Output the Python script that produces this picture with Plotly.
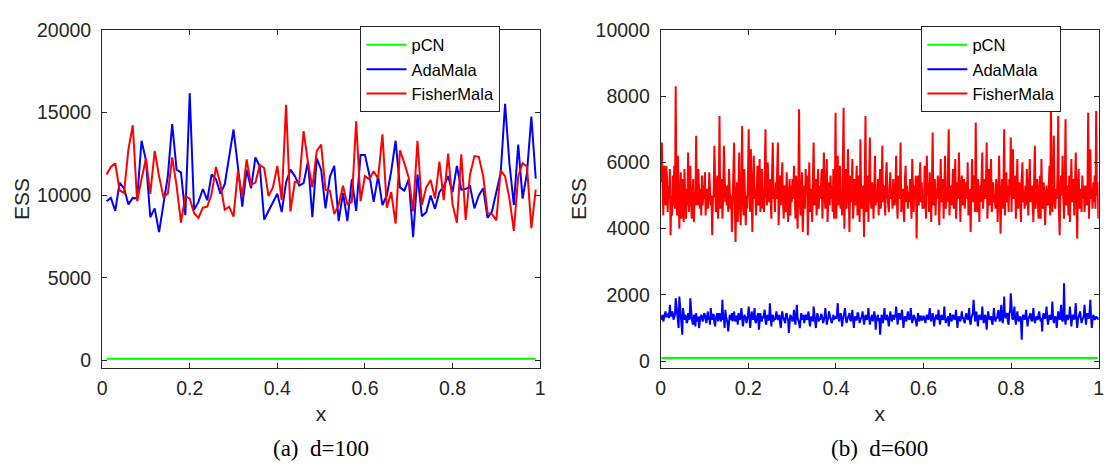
import numpy as np
import plotly.graph_objects as go

# ---------------- d = 100 ----------------
x_a = [round(0.01 * k, 2) for k in range(1, 100)]

ada_a = [9630, 9830, 9050, 10760, 10410, 9440, 9830, 9790, 13290, 12120,
         8660, 9200, 7760, 9590, 11150, 14300, 11540, 11380, 8780, 16170,
         9110, 9590, 10370, 9690, 11250, 10960, 10080, 10660, 12320, 13970,
         11730, 9300, 11540, 10410, 12280, 11730, 8520, 9010, 9550, 10080,
         8970, 10760, 11540, 11150, 10570, 10720, 12030, 8660, 12220, 11540,
         9200, 11110, 11770, 8430, 10140, 8430, 10960, 9050, 12420, 12420,
         11250, 9590, 11150, 9400, 9980, 11440, 13290, 10470, 10270, 10960,
         7450, 11250, 8720, 8970, 9980, 9170, 10180, 10530, 11150, 10180,
         11770, 10330, 10370, 10530, 9200, 9980, 10410, 8620, 9010, 10180,
         11350, 15530, 11890, 9400, 13060, 9790, 11350, 14750, 11000]

fisher_a = [11250, 11700, 11930, 10280, 10140, 12750, 14230, 9630, 10960, 12220,
            10080, 12670, 11150, 9890, 10080, 12280, 10570, 8330, 9940, 9790,
            8910, 8620, 9240, 9300, 10080, 11700, 10660, 9110, 9300, 8700,
            11440, 9890, 12160, 10610, 10760, 11830, 11640, 9940, 10470, 11770,
            9690, 15470, 9010, 10800, 10760, 13870, 11970, 10470, 12670, 13060,
            10330, 10280, 8850, 9400, 10570, 9440, 9590, 14460, 9630, 11150,
            10960, 11440, 11000, 13680, 9240, 10180, 8270, 12710, 11930, 11050,
            9010, 13290, 9400, 10470, 10920, 9790, 12030, 9690, 12510, 9440,
            8330, 12470, 8500, 11250, 12360, 12320, 11150, 8910, 8850, 8470,
            11500, 11150, 9790, 7840, 11150, 11930, 11730, 8000, 10330]

pcn_a = [101, 99, 100, 102, 98, 100, 101, 99, 100, 103,
         98, 100, 101, 99, 102, 100, 98, 101, 100, 99,
         102, 100, 99, 101, 98, 100, 102, 99, 101, 100,
         98, 101, 100, 99, 102, 100, 101, 98, 100, 99,
         101, 102, 100, 98, 101, 99, 100, 102, 99, 101,
         100, 98, 101, 100, 99, 102, 100, 101, 98, 100,
         99, 101, 102, 100, 98, 101, 99, 100, 102, 99,
         101, 100, 98, 101, 100, 99, 102, 100, 101, 98,
         100, 99, 101, 102, 100, 98, 101, 99, 100, 102,
         99, 101, 100, 98, 101, 100, 99, 102, 100]

# ---------------- d = 600 ----------------
fisher_b = [
    5400, 6600, 5300, 4400, 5900, 5000, 4700, 5900, 5600, 4500, 5300, 4900, 5800, 3800, 5000, 4400, 5600, 4700, 5900, 4600,
    8300, 4900, 4400, 6200, 5100, 4000, 5000, 5700, 4300, 5500, 4800, 4200, 5800, 4600, 4300, 5200, 4700, 6300, 4500, 5100,
    5900, 4800, 4300, 5000, 5500, 4200, 5100, 4700, 6800, 4900, 4700, 5800, 5200, 4600, 5200, 4400, 5600, 4700, 5300, 4900,
    5700, 4400, 5100, 5200, 4600, 4900, 5700, 5300, 4700, 5000, 3800, 4900, 5000, 6500, 5200, 4500, 4800, 5600, 4300, 5000,
    7400, 4600, 5200, 5500, 4300, 4900, 6500, 5100, 4800, 5300, 4700, 5300, 4500, 5800, 5100, 4600, 5000, 3900, 4800, 5400,
    6600, 4700, 3600, 5000, 5400, 4200, 4900, 6300, 4700, 4100, 5200, 7100, 4800, 4400, 5800, 5200, 4100, 5000, 4600, 5600,
    7000, 5100, 4500, 6400, 4800, 3900, 5300, 6200, 4900, 5200, 4400, 5600, 5900, 4700, 5100, 6100, 4500, 5300, 5800, 4600,
    5200, 4500, 5600, 7000, 5000, 4700, 6000, 5300, 4800, 5500, 5100, 4300, 5700, 6600, 4900, 5200, 4500, 5400, 4900, 5900,
    6600, 4100, 5000, 5600, 4700, 5400, 6000, 4800, 4300, 5300, 5000, 4500, 5700, 5200, 4200, 4900, 5500, 4400, 5300, 4800,
    5500, 4900, 5900, 5200, 4300, 5600, 5000, 4000, 5400, 7600, 4800, 4400, 5100, 5700, 3900, 5000, 5300, 4600, 5800, 5100,
    5600, 3800, 5100, 6000, 4500, 5200, 4900, 4200, 5600, 6600, 4700, 5300, 5500, 4400, 5000, 5800, 4600, 5300, 4900, 5600,
    5800, 4300, 5200, 6300, 5000, 4600, 5400, 6100, 4200, 5100, 5400, 4700, 5600, 4900, 5300, 4500, 5800, 4300, 5000, 7500,
    4300, 5500, 6200, 4700, 5300, 5900, 4600, 5000, 4400, 5800, 7650, 4000, 5200, 5800, 4600, 5100, 6400, 4800, 3900, 5600,
    4800, 5300, 6100, 4300, 5000, 5500, 4700, 5200, 5900, 4400, 4900, 5600, 4200, 6700, 5100, 4600, 5300, 4900, 3750, 5200,
    7400, 4500, 5000, 5600, 4200, 5100, 6750, 4900, 4600, 5400, 5100, 4300, 5700, 6200, 4700, 5200, 4800, 5500, 4400, 5300,
    5800, 4600, 5100, 6500, 4800, 5300, 5000, 4400, 5600, 6000, 5000, 4700, 4500, 5300, 5700, 4900, 5200, 4600, 5500, 5000,
    4700, 5300, 6200, 4800, 4300, 5600, 5100, 4900, 6600, 4500, 5000, 5200, 4600, 4200, 5500, 5900, 4800, 5300, 4600, 5100,
    4800, 5500, 5000, 4300, 6100, 5200, 4500, 5300, 4900, 5600, 3700, 5100, 5600, 4700, 5200, 6000, 4800, 5400, 4600, 5000,
    4600, 5900, 5100, 4300, 6200, 5000, 5400, 4500, 5700, 5000, 4200, 5300, 6900, 4700, 5100, 5500, 4400, 5200, 4900, 5600,
    5400, 4100, 5000, 6100, 4800, 5300, 5500, 4300, 5100, 6200, 4600, 5200, 4800, 5600, 7000, 4400, 5000, 5300, 4700, 5500,
    5800, 4600, 5200, 6100, 4300, 5000, 5400, 4900, 6300, 5100, 4200, 5300, 5600, 4700, 5200, 5500, 4600, 5000, 5400, 4900,
    6000, 4400, 5100, 5200, 3900, 5000, 6100, 4800, 5300, 5600, 4500, 7200, 5000, 4500, 5500, 5100, 4200, 5300, 4800, 5700,
    6300, 4600, 5200, 5500, 4900, 5300, 6600, 4300, 5000, 5800, 4700, 5300, 6100, 4500, 5100, 5400, 4800, 5000, 4600, 5500,
    5300, 4200, 5000, 6200, 5100, 3850, 4900, 5500, 4600, 5200, 7000, 4400, 5100, 5700, 4800, 5300, 4500, 5500, 5000, 6750,
    4500, 5200, 6400, 4900, 5300, 5600, 4300, 5000, 6100, 4600, 5300, 5400, 4700, 4200, 5500, 6000, 4800, 5100, 4600, 5300,
    4700, 5800, 5100, 4400, 5300, 6100, 4800, 5200, 5300, 4700, 4200, 5500, 6500, 4600, 5100, 5500, 4900, 4300, 5200, 5600,
    4300, 6100, 5000, 4600, 5400, 5100, 4100, 5000, 5300, 4800, 4700, 5200, 5900, 4400, 7800, 5600, 4500, 5300, 6800, 4800,
    4600, 5200, 4900, 5600, 7400, 4500, 3800, 5200, 5600, 5000, 6200, 4900, 4300, 5400, 7300, 4700, 5100, 5300, 4400, 5600,
    4200, 5300, 6100, 4800, 5100, 5500, 4400, 5200, 6300, 4900, 3700, 5300, 5800, 4600, 5100, 5200, 4500, 5600, 4900, 5300,
    4500, 5100, 5300, 4700, 5000, 7500, 4300, 5000, 6400, 4900, 5200, 4600, 5400, 4800, 5600, 4600, 7550, 5000, 5400, 4300]

ada_b = [
    1250, 1350, 1400, 1200, 1300, 1450, 1500, 1350, 1350, 1400, 1450, 1300, 1700, 1400, 1350, 1500, 1450, 1250, 1300, 1400,
    1900, 1600, 1500, 1200, 1000, 1950, 1700, 1400, 1300, 800, 1600, 1350, 1250, 1400, 1350, 1150, 1200, 1450, 1300, 1250,
    1900, 1400, 1300, 1150, 1100, 1400, 1300, 1050, 1450, 1200, 1300, 1350, 1000, 1250, 1350, 1400, 1250, 1200, 1300, 1450,
    1400, 1200, 1150, 1350, 1500, 1250, 1300, 1100, 1600, 1350, 1250, 1400, 1400, 1150, 1050, 1300, 1350, 1450, 1200, 1300,
    1450, 1300, 1200, 1350, 1850, 1250, 1300, 1000, 1550, 1350, 1250, 1150, 900, 1300, 1400, 1250, 1300, 1450, 1200, 1350,
    1500, 1250, 1200, 1350, 1350, 1100, 1450, 1300, 1250, 1400, 1600, 1300, 1050, 1200, 1400, 1350, 1300, 1150, 1250, 1400,
    1650, 1300, 1000, 1250, 1500, 1350, 1250, 1400, 1600, 1200, 1150, 1300, 1350, 1450, 950, 1250, 1450, 1300, 1200, 1350,
    1300, 1450, 1550, 1200, 1100, 1350, 1400, 1250, 1250, 1750, 1300, 1050, 1350, 1400, 1200, 1300, 1250, 1450, 1500, 1300,
    1250, 1350, 1400, 1150, 1000, 1300, 1500, 1350, 1300, 1200, 1150, 1400, 1450, 1300, 1250, 850, 1300, 1400, 1350, 1250,
    1200, 1300, 1550, 1250, 1100, 1400, 1700, 1300, 1250, 1150, 1000, 1350, 1450, 1250, 1300, 1400, 1150, 1250, 1400, 1300,
    1250, 1400, 1500, 1200, 1050, 1300, 1350, 1250, 1200, 1650, 1400, 1300, 1000, 1250, 1450, 1350, 1200, 1300, 1250, 1400,
    1400, 1300, 1150, 1250, 1350, 1600, 1300, 1100, 1250, 1300, 1500, 1350, 1250, 1200, 1150, 1300, 1400, 1250, 1350, 1300,
    1300, 1450, 1750, 1300, 1200, 1350, 1450, 1300, 1050, 1250, 1350, 1400, 1600, 1300, 1150, 1250, 1300, 1400, 1450, 1250,
    1200, 1350, 1550, 1250, 1000, 1300, 1350, 1250, 1250, 1450, 1450, 1300, 1150, 1250, 1300, 1350, 1500, 1300, 1100, 1250,
    1400, 1300, 1250, 1350, 1600, 1300, 1100, 1250, 1350, 1400, 1200, 1300, 1500, 1350, 950, 1250, 1300, 1400, 1200, 1300,
    800, 1200, 1400, 1300, 1150, 1350, 1600, 1300, 1250, 1400, 1350, 1200, 1050, 1300, 1500, 1350, 1200, 1300, 1400, 1250,
    1300, 1400, 1650, 1250, 1100, 1350, 1450, 1300, 1250, 1400, 1550, 1300, 1000, 1250, 1350, 1300, 1200, 1350, 1500, 1300,
    1250, 1350, 1600, 1300, 1150, 1250, 1400, 1350, 1300, 1200, 1050, 1300, 1450, 1300, 1200, 1350, 1350, 1250, 1250, 1350,
    1350, 1250, 1150, 1300, 1400, 1350, 1250, 1400, 1600, 1300, 1200, 1350, 1450, 1300, 1050, 1250, 1350, 1400, 1300, 1250,
    1550, 1300, 1100, 1250, 1400, 1350, 1250, 1300, 1650, 1300, 1150, 1250, 1300, 1350, 1050, 1300, 1450, 1300, 1200, 1350,
    1400, 1300, 1250, 1350, 1550, 1250, 1000, 1300, 1350, 1250, 1200, 1350, 1500, 1300, 1300, 1200, 1150, 1350, 1450, 1300,
    1250, 1350, 1600, 1200, 1100, 1300, 1350, 1450, 1850, 1300, 1200, 1350, 1500, 1250, 1050, 1300, 1400, 1350, 1250, 1300,
    1650, 1300, 1150, 1350, 1400, 1200, 950, 1300, 1500, 1350, 1250, 1300, 1350, 1200, 1100, 1350, 1600, 1300, 1200, 1300,
    1300, 1400, 1550, 1300, 1200, 1450, 1700, 1250, 1150, 1400, 1950, 1350, 1300, 1400, 1450, 1200, 1100, 1450, 1500, 2050,
    1400, 1300, 1250, 1450, 1650, 1250, 1100, 1350, 1500, 1300, 1200, 1300, 1350, 1200, 650, 1300, 1400, 1350, 1250, 1350,
    1550, 1300, 1050, 1250, 1300, 1400, 1450, 1250, 1200, 1350, 1600, 1300, 1150, 1250, 1350, 1300, 1250, 1400, 1500, 1300,
    1200, 1300, 900, 1350, 1450, 1300, 1300, 1400, 1650, 1300, 1100, 1250, 1400, 1350, 1250, 1350, 1800, 1300, 1150, 1300,
    1350, 1250, 1000, 1300, 1500, 1350, 1250, 1400, 1700, 1250, 1200, 1300, 2350, 1300, 1100, 1300, 1400, 1250, 1300, 1350,
    1650, 1300, 1050, 1300, 1400, 1350, 1250, 1450, 1750, 1300, 1000, 1250, 1350, 1400, 1500, 1300, 1150, 1250, 1300, 1350,
    1700, 1350, 1100, 1300, 1450, 1300, 1300, 1500, 1850, 1300, 1000, 1250, 1400, 1350, 1250, 1300, 1350, 1300, 1300, 1250]

pcn_b = [95, 96, 95, 97, 96, 95, 96, 97, 98, 104,
         110, 102, 96, 95, 96, 95, 97, 96, 95, 96,
         97, 95, 96, 95, 97, 96, 95, 96, 95, 96]

x_b = (np.arange(len(fisher_b)) + 0.5) / len(fisher_b)
x_b_pcn = np.linspace(1 / 600, 599 / 600, len(pcn_b))

GREEN, BLUE, RED = "#00ff00", "#0000ff", "#ff0000"
AX = "#262626"
FONT = "Liberation Sans, Arial, Helvetica, sans-serif"
LW = 2

fig = go.Figure()


def add_panel(xs, ys_pcn, xs_pcn, ys_ada, ys_fis, xa, ya, legend):
    fig.add_trace(go.Scatter(x=xs_pcn, y=ys_pcn, mode="lines", name="pCN",
                             line=dict(color=GREEN, width=LW),
                             xaxis=xa, yaxis=ya, legend=legend))
    fig.add_trace(go.Scatter(x=xs, y=ys_ada, mode="lines", name="AdaMala",
                             line=dict(color=BLUE, width=LW),
                             xaxis=xa, yaxis=ya, legend=legend))
    fig.add_trace(go.Scatter(x=xs, y=ys_fis, mode="lines", name="FisherMala",
                             line=dict(color=RED, width=LW),
                             xaxis=xa, yaxis=ya, legend=legend))


add_panel(x_a, pcn_a, x_a, ada_a, fisher_a, "x", "y", "legend")
add_panel(x_b, pcn_b, x_b_pcn, ada_b, fisher_b, "x2", "y2", "legend2")

W, H = 1108, 466
ydom = [1 - 369 / H, 1 - 19.5 / H]

x_ticks = [0, 0.2, 0.4, 0.6, 0.8, 1]
x_labels = ["0", "0.2", "0.4", "0.6", "0.8", "1"]
ya_ticks = [0, 5000, 10000, 15000, 20000]
yb_ticks = [0, 2000, 4000, 6000, 8000, 10000]

axis_common = dict(showgrid=False, zeroline=False, showline=True, linecolor=AX,
                   linewidth=1, mirror="ticks", ticks="inside", ticklen=5,
                   tickcolor=AX, tickfont=dict(family=FONT, size=19.5, color=AX))
title_font = dict(family=FONT, size=21, color=AX)

legend_common = dict(bgcolor="white", bordercolor=AX, borderwidth=1,
                     font=dict(family=FONT, size=16.5, color="black"),
                     xanchor="right", yanchor="top", tracegroupgap=0,
                     itemwidth=40)

fig.update_layout(
    width=W, height=H,
    margin=dict(l=0, r=0, t=0, b=0),
    paper_bgcolor="white", plot_bgcolor="white",
    xaxis=dict(domain=[98 / W, 540 / W], range=[0, 1], tickvals=x_ticks,
               ticktext=x_labels, anchor="y", ticklabelstandoff=2,
               title=dict(text="x", font=title_font, standoff=8),
               **axis_common),
    yaxis=dict(domain=ydom, range=[-470, 20000], tickvals=ya_ticks,
               ticktext=[str(v) for v in ya_ticks], anchor="x", ticklabelstandoff=6,
               title=dict(text="ESS", font=title_font, standoff=1),
               **axis_common),
    xaxis2=dict(domain=[661.7 / W, 1103.7 / W], range=[0, 1], tickvals=x_ticks,
                ticktext=x_labels, anchor="y2", ticklabelstandoff=2,
                title=dict(text="x", font=title_font, standoff=8),
                **axis_common),
    yaxis2=dict(domain=ydom, range=[-210, 10000], tickvals=yb_ticks,
                ticktext=[str(v) for v in yb_ticks], anchor="x2", ticklabelstandoff=6,
                title=dict(text="ESS", font=title_font, standoff=3),
                **axis_common),
    legend=dict(x=500 / W, y=1 - 16 / H, **legend_common),
    legend2=dict(x=1066 / W, y=1 - 16 / H, **legend_common),
    showlegend=True,
)

SERIF = "Liberation Serif, DejaVu Serif, serif"
for cx, txt in [((98 + 540) / 2 / W, "(a)\u00a0\u00a0d=100"),
                ((661.7 + 1103.7) / 2 / W, "(b)\u00a0\u00a0d=600")]:
    fig.add_annotation(x=cx, y=1 - 452 / H, xref="paper", yref="paper", text=txt,
                       showarrow=False, xanchor="center", yanchor="middle",
                       font=dict(family=SERIF, size=23, color="black"))

fig.write_html("out.html")
